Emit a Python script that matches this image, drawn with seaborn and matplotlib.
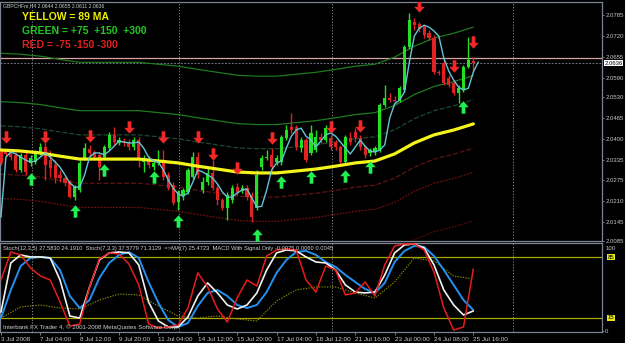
import numpy as np
import matplotlib
matplotlib.use("Agg")
import matplotlib.pyplot as plt
from matplotlib.path import Path
import matplotlib.transforms as mtrans
import seaborn as sns

# ---------------- data ----------------
opens = [2.0367,2.0364,2.0361,2.0352,2.0305,2.0352,2.0327,2.0330,2.0358,2.0376,
         2.0336,2.0321,2.0290,2.0280,2.0268,2.0221,2.0243,2.0342,2.0370,2.0361,
         2.0352,2.0345,2.0373,2.0414,2.0389,2.0392,2.0392,2.0376,2.0398,2.0330,
         2.0339,2.0314,2.0327,2.0336,2.0290,2.0259,2.0206,2.0224,2.0237,2.0283,
         2.0345,2.0243,2.0268,2.0296,2.0249,2.0212,2.0187,2.0212,2.0252,2.0240,
         2.0249,2.0228,2.0187,2.0314,2.0342,2.0352,2.0330,2.0330,2.0404,2.0438,
         2.0438,2.0373,2.0398,2.0358,2.0367,2.0407,2.0398,2.0404,2.0392,2.0376,
         2.0330,2.0404,2.0423,2.0404,2.0376,2.0358,2.0361,2.0367,2.0507,2.0528,
         2.0522,2.0522,2.0553,2.0686,2.0764,2.0758,2.0748,2.0730,2.0714,2.0609,
         2.0637,2.0590,2.0575,2.0544,2.0553,2.0624,2.0644]
highs = [2.0373,2.0367,2.0367,2.0358,2.0358,2.0361,2.0352,2.0367,2.0389,2.0389,
         2.0367,2.0336,2.0305,2.0286,2.0274,2.0259,2.0336,2.0389,2.0383,2.0367,
         2.0358,2.0383,2.0423,2.0438,2.0407,2.0404,2.0401,2.0407,2.0407,2.0352,
         2.0348,2.0336,2.0367,2.0367,2.0299,2.0268,2.0243,2.0249,2.0311,2.0361,
         2.0361,2.0283,2.0311,2.0336,2.0259,2.0218,2.0237,2.0259,2.0265,2.0259,
         2.0259,2.0237,2.0305,2.0352,2.0367,2.0373,2.0352,2.0414,2.0445,2.0482,
         2.0445,2.0407,2.0404,2.0445,2.0429,2.0420,2.0445,2.0414,2.0398,2.0383,
         2.0414,2.0423,2.0435,2.0414,2.0383,2.0373,2.0379,2.0513,2.0568,2.0544,
         2.0534,2.0565,2.0692,2.0792,2.0776,2.0764,2.0754,2.0739,2.0724,2.0615,
         2.0646,2.0600,2.0584,2.0568,2.0631,2.0717,2.0655]
lows = [2.0321,2.0348,2.0336,2.0299,2.0299,2.0290,2.0317,2.0324,2.0352,2.0274,
        2.0283,2.0265,2.0268,2.0255,2.0218,2.0212,2.0237,2.0336,2.0348,2.0336,
        2.0274,2.0339,2.0367,2.0383,2.0383,2.0379,2.0367,2.0367,2.0314,2.0299,
        2.0311,2.0305,2.0321,2.0274,2.0243,2.0197,2.0181,2.0212,2.0231,2.0277,
        2.0280,2.0234,2.0259,2.0243,2.0197,2.0181,2.0150,2.0203,2.0228,2.0234,
        2.0212,2.0144,2.0181,2.0305,2.0336,2.0305,2.0321,2.0321,2.0398,2.0420,
        2.0367,2.0361,2.0330,2.0352,2.0361,2.0389,2.0392,2.0367,2.0367,2.0321,
        2.0321,2.0383,2.0392,2.0367,2.0342,2.0348,2.0352,2.0361,2.0500,2.0516,
        2.0513,2.0516,2.0547,2.0680,2.0739,2.0733,2.0714,2.0708,2.0603,2.0600,
        2.0568,2.0562,2.0538,2.0513,2.0547,2.0621,2.0611]
closes = [2.0327,2.0355,2.0345,2.0305,2.0352,2.0299,2.0342,2.0361,2.0376,2.0321,
          2.0311,2.0280,2.0280,2.0265,2.0221,2.0252,2.0327,2.0373,2.0358,2.0345,
          2.0314,2.0376,2.0414,2.0392,2.0398,2.0389,2.0376,2.0398,2.0342,2.0342,
          2.0321,2.0327,2.0336,2.0283,2.0249,2.0203,2.0237,2.0243,2.0305,2.0345,
          2.0290,2.0268,2.0296,2.0249,2.0212,2.0187,2.0228,2.0249,2.0237,2.0249,
          2.0221,2.0159,2.0290,2.0342,2.0345,2.0314,2.0342,2.0407,2.0429,2.0429,
          2.0376,2.0398,2.0336,2.0420,2.0407,2.0398,2.0435,2.0376,2.0376,2.0330,
          2.0407,2.0392,2.0404,2.0376,2.0352,2.0367,2.0373,2.0507,2.0528,2.0522,
          2.0519,2.0559,2.0686,2.0770,2.0754,2.0742,2.0724,2.0714,2.0609,2.0606,
          2.0575,2.0568,2.0544,2.0559,2.0624,2.0646,2.0636]

ma_bars = list(range(0, 97, 4))
ma89 = [2.0367,2.0364,2.0358,2.0348,2.0339,2.0339,2.0339,2.0339,2.0333,2.0327,
        2.0317,2.0308,2.0299,2.0296,2.0296,2.0302,2.0308,2.0317,2.0327,2.0333,
        2.0355,2.0389,2.0414,2.0429,2.0448]
band_offsets_green = [0.0075, 0.0150, 0.0300]
band_offsets_red = [-0.0075, -0.0150, -0.0300]

fast_ma = [2.0159,2.0345,2.0361,2.0355,2.0345,2.0336,2.0330,2.0333,2.0345,2.0358,
           2.0345,2.0330,2.0314,2.0290,2.0265,2.0252,2.0252,2.0290,2.0345,2.0358,
           2.0358,2.0352,2.0364,2.0379,2.0395,2.0392,2.0389,2.0389,2.0392,2.0373,
           2.0345,2.0333,2.0330,2.0305,2.0274,2.0249,2.0231,2.0224,2.0234,2.0268,
           2.0305,2.0299,2.0290,2.0280,2.0262,2.0237,2.0221,2.0221,2.0234,2.0243,
           2.0246,2.0218,2.0190,2.0193,2.0243,2.0305,2.0327,2.0333,2.0373,2.0410,
           2.0429,2.0435,2.0410,2.0398,2.0376,2.0395,2.0414,2.0420,2.0410,2.0392,
           2.0373,2.0355,2.0376,2.0398,2.0379,2.0364,2.0361,2.0367,2.0383,2.0466,
           2.0510,2.0522,2.0547,2.0640,2.0720,2.0745,2.0754,2.0748,2.0736,2.0720,
           2.0652,2.0612,2.0584,2.0562,2.0553,2.0559,2.0609,2.0640]

red_arrow_bars = [1, 9, 18, 26, 33, 40, 43, 48, 55, 67, 73, 85, 92, 96]
red_arrow_prices = [2.0407,2.0407,2.0410,2.0438,2.0407,2.0407,2.0355,2.0311,
                    2.0404,2.0438,2.0441,2.0813,2.0627,2.0702]
green_arrow_bars = [6, 15, 21, 31, 36, 52, 57, 63, 70, 75, 94]
green_arrow_prices = [2.0277,2.0178,2.0305,2.0283,2.0147,2.0103,2.0268,2.0283,
                      2.0286,2.0314,2.0500]

price_ticks = [2.0785,2.0720,2.0655,2.0590,2.0530,2.0465,2.0400,2.0335,
               2.0275,2.0210,2.0145,2.0085]
bid_price = 2.0636
ask_price = 2.0651

osc_bars = list(range(0, 97, 2))
stoch_fast = [58.6,90.8,87.4,72.4,63.2,58.6,33.3,5.7,8.0,50.6,82.8,89.7,88.5,77.0,
              52.9,8.0,3.4,4.6,6.9,26.4,66.7,50.6,25.3,10.3,37.9,58.6,51.7,86.2,
              93.1,94.3,93.1,58.6,44.8,74.7,70.1,41.4,43.7,56.3,40.2,75.9,97.7,
              100,100,93.1,67.8,26.4,1.1,4.6,71.3]
stoch_mid = [21.8,78.2,87.4,85.1,85.1,83.9,58.6,17.2,14.9,50.6,81.6,89.7,90.8,89.7,
             75.9,33.3,11.5,4.6,4.6,16.1,40.2,55.2,43.7,29.9,25.3,29.9,43.7,70.1,
             89.7,93.1,92.0,85.1,79.3,78.2,70.1,52.9,44.8,43.7,44.8,64.4,89.7,
             98.9,100,95.4,75.9,47.1,29.9,18.4,23.0]
stoch_slow = [14.9,47.1,74.7,83.9,85.1,83.9,70.1,40.2,26.4,35.6,60.9,78.2,87.4,
              90.8,83.9,56.3,32.2,12.6,4.6,9.2,28.7,43.7,47.1,40.2,29.9,26.4,29.9,
              44.8,66.7,81.6,90.8,92.0,87.4,79.3,73.6,64.4,56.3,48.3,43.7,55.2,
              79.3,92.0,97.7,96.6,86.2,70.1,52.9,35.6,24.1]
ma7_bars = list(range(0, 97, 4))
ma7 = [14.9,27.6,29.9,26.4,25.3,35.6,42.5,41.4,28.7,17.2,14.9,17.2,13.8,11.5,
       34.5,47.1,50.6,50.6,43.7,37.9,56.3,83.9,80.5,63.2,59.8]
osc_levels = [85, 15]

xtick_bars = list(range(0, 97, 8))
xtick_labels = ['3 Jul 2008', '7 Jul 04:00', '8 Jul 12:00', '9 Jul 20:00',
                '11 Jul 04:00', '14 Jul 12:00', '15 Jul 20:00', '17 Jul 04:00',
                '18 Jul 12:00', '21 Jul 16:00', '23 Jul 00:00', '24 Jul 08:00',
                '25 Jul 16:00']
separator_bars = [6.3, 36.2, 67.3, 104.1]

# ---------------- styling ----------------
sns.set_style("dark")
plt.rcParams['font.family'] = ['Liberation Sans', 'DejaVu Sans']

W, H = 625, 343
fig = plt.figure(figsize=(W / 100, H / 100), dpi=100, facecolor='black')

def fx(px):
    return px / W

def fy(py):
    return 1 - py / H

ax = fig.add_axes([0, fy(241), fx(602), (241 - 2) / H])
axs = fig.add_axes([0, fy(332), fx(602), (332 - 243) / H])
for a in (ax, axs):
    a.set_facecolor('black')
    a.grid(False)
    for s in a.spines.values():
        s.set_color('#7c8494')
        s.set_linewidth(0.9)
    a.set_xlim(-0.2, 122.15)

ax.set_ylim(2.0085, 2.0826)
axs.set_ylim(-1.15, 101.1)

LBL = 4.3

# separators
for b in separator_bars:
    for a in (ax, axs):
        a.axvline(b, color='#8a8a8a', lw=0.7, ls=(0, (1.2, 1.8)), zorder=0)

# bid/ask lines
ax.axhline(ask_price, color='#d8a2a2', lw=0.9, zorder=1)
ax.axhline(bid_price, color='#6f7580', lw=0.7, ls=(0, (2, 1.5)), zorder=1)

# MA and bands
ma = np.array(ma89)
sns.lineplot(x=ma_bars, y=ma + band_offsets_green[2], ax=ax, color='#1f7a1f', lw=0.9, legend=False)
sns.lineplot(x=ma_bars, y=ma + band_offsets_green[1], ax=ax, color='#1f7a1f', lw=0.9, legend=False)
sns.lineplot(x=ma_bars, y=ma + band_offsets_green[0], ax=ax, color='#1c4a30', lw=0.9, legend=False)
ax.lines[-1].set_dashes([4, 1.5])
sns.lineplot(x=ma_bars, y=ma + band_offsets_red[0], ax=ax, color='#5c1414', lw=0.9, legend=False)
ax.lines[-1].set_dashes([4, 1.5])
sns.lineplot(x=ma_bars, y=ma + band_offsets_red[1], ax=ax, color='#6e1010', lw=0.9, legend=False)
ax.lines[-1].set_dashes([1.5, 1])
sns.lineplot(x=ma_bars, y=ma + band_offsets_red[2], ax=ax, color='#5a0a0a', lw=0.9, legend=False)
ax.lines[-1].set_dashes([1.5, 1])

# candles
o = np.array(opens); h = np.array(highs); l = np.array(lows); c = np.array(closes)
bars = np.arange(len(o))
up = c > o
cols = np.where(up, '#22e022', '#e02222')
ax.vlines(bars, l, h, colors=cols, lw=1.0, zorder=3)
ax.bar(bars, np.maximum(np.abs(c - o), 0.00012), bottom=np.minimum(o, c),
       width=0.64, color=cols, linewidth=0, zorder=4)

sns.lineplot(x=ma_bars, y=ma89, ax=ax, color='#f4f41c', lw=2.3, legend=False, zorder=5)
sns.lineplot(x=list(range(len(fast_ma))), y=fast_ma, ax=ax, color='#62c6d6', lw=1.0,
             legend=False, zorder=6)

# arrows
up_verts = [(0, 1), (0.85, 0.05), (0.3, 0.05), (0.3, -1), (-0.3, -1), (-0.3, 0.05),
            (-0.85, 0.05), (0, 1)]
up_path = Path(up_verts, closed=True)
down_path = Path([(x, -y) for x, y in up_verts], closed=True)
ax.scatter(red_arrow_bars, red_arrow_prices, marker=down_path, s=80,
           color='#f02828', linewidths=0, zorder=7)
ax.scatter(green_arrow_bars, green_arrow_prices, marker=up_path, s=80,
           color='#22f050', linewidths=0, zorder=7)

# price axis
ax.yaxis.tick_right()
ax.set_yticks(price_ticks)
ax.set_yticklabels([f'{v:.4f}' for v in price_ticks])
ax.tick_params(axis='y', colors='#8a8a8a', labelcolor='#c8c8c8', labelsize=LBL,
               length=1.5, width=0.6, pad=0.8, direction='out', right=True, left=False)
ax.tick_params(axis='x', bottom=False, labelbottom=False)
ax.set_xlabel(''); ax.set_ylabel('')
trans = mtrans.blended_transform_factory(ax.transAxes, ax.transData)
ax.text(1.004, bid_price, f'{bid_price:.4f}', transform=trans, color='black',
        fontsize=LBL, va='center', ha='left', clip_on=False,
        bbox=dict(facecolor='white', edgecolor='none', pad=0.5), zorder=10)

# oscillator panel
for lev in osc_levels:
    axs.axhline(lev, color='#a8a800', lw=0.9, zorder=1)
sns.lineplot(x=ma7_bars, y=ma7, ax=axs, color='#8f8f00', lw=0.8, legend=False, zorder=2)
axs.lines[-1].set_dashes([1.2, 1.2])
sns.lineplot(x=osc_bars, y=stoch_slow, ax=axs, color='#2490f0', lw=1.4, legend=False, zorder=3)
sns.lineplot(x=osc_bars, y=stoch_mid, ax=axs, color='#f2f2f2', lw=1.2, legend=False, zorder=4)
sns.lineplot(x=osc_bars, y=stoch_fast, ax=axs, color='#e81c1c', lw=1.1, legend=False, zorder=5)

axs.yaxis.tick_right()
axs.set_yticks([0])
axs.set_yticklabels(['0'])
axs.tick_params(axis='y', colors='#8a8a8a', labelcolor='#c8c8c8', labelsize=LBL,
                length=1.5, width=0.6, pad=0.8, direction='out', right=True, left=False)
trans2 = mtrans.blended_transform_factory(axs.transAxes, axs.transData)
axs.text(1.006, 95.2, '100', transform=trans2, color='#c8c8c8', fontsize=LBL,
         va='center', ha='left', clip_on=False)
for lev in osc_levels:
    axs.text(1.01, lev, str(lev), transform=trans2, color='black', fontsize=LBL,
             va='center', ha='left', clip_on=False,
             bbox=dict(facecolor='#e6e61a', edgecolor='none', pad=0.5), zorder=10)

axs.set_xticks(xtick_bars)
axs.set_xticklabels(xtick_labels, ha='left')
axs.tick_params(axis='x', colors='#8a8a8a', labelcolor='#c8c8c8', labelsize=4.6,
                length=2.5, width=0.6, pad=1.0, direction='out', bottom=True)
axs.set_xlabel(''); axs.set_ylabel('')

# texts
fig.text(fx(3), fy(6), 'GBPCHFm,H4 2.0644 2.0655 2.0611 2.0636', color='#d0d0d0',
         fontsize=3.7, va='center', ha='left')
fig.text(fx(22), fy(17.5), 'YELLOW = 89 MA', color='#f0f000', fontsize=7.5,
         fontweight='bold', va='center', ha='left')
fig.text(fx(22), fy(31), 'GREEN = +75  +150  +300', color='#22c822', fontsize=7.5,
         fontweight='bold', va='center', ha='left')
fig.text(fx(22), fy(45), 'RED = -75 -150 -300', color='#e02020', fontsize=7.5,
         fontweight='bold', va='center', ha='left')
fig.text(fx(3), fy(248.5),
         'Stoch(12,3,5) 27.5830 24.1910  Stoch(7,3,3) 37.5779 71.3129  =>MA(7) 25.4723  '
         'MACD With Signal Only -0.0075 0.0060 0.0045',
         color='#d0d0d0', fontsize=4.15, va='center', ha='left')
fig.text(fx(3), fy(327), 'Interbank FX Trader 4, \u00a9 2001-2008 MetaQuotes Software Corp.',
         color='#d0d0d0', fontsize=4.4, va='center', ha='left')

fig.savefig('out.png', dpi=100, facecolor='black')
